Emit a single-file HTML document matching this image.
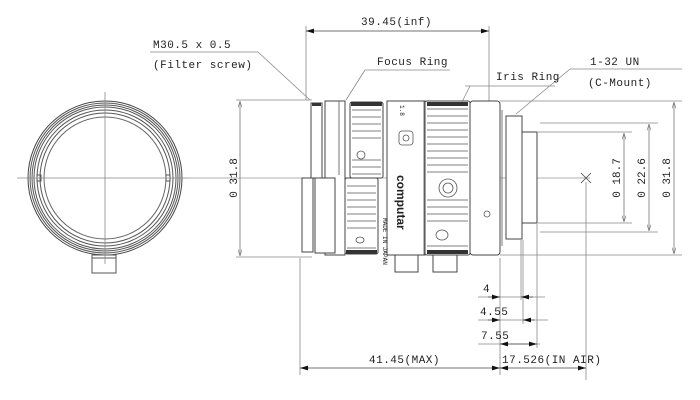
<!DOCTYPE html>
<html><head><meta charset="utf-8"><style>
html,body{margin:0;padding:0;background:#fff;}
svg{display:block;}
text{font-family:"Liberation Mono","Noto Sans CJK JP",monospace;fill:#222;}
</style></head><body>
<svg width="700" height="400" viewBox="0 0 700 400" xmlns="http://www.w3.org/2000/svg">
<defs>
<marker id="a" viewBox="0 0 10 6" refX="10" refY="3" markerWidth="10" markerHeight="6" orient="auto-start-reverse"><path d="M0,0L10,3L0,6z" fill="#111"/></marker>
<marker id="t" viewBox="0 0 10 6" refX="10" refY="3" markerWidth="8" markerHeight="5" orient="auto-start-reverse"><path d="M0,0L10,3L0,6" fill="none" stroke="#777"/></marker>
</defs>
<g fill="none" stroke="#555" stroke-width="1">
<!-- front view -->
<circle cx="105" cy="178" r="77" stroke="#444"/>
<circle cx="105" cy="178" r="75"/>
<circle cx="105" cy="178" r="73"/>
<circle cx="105" cy="178" r="71"/>
<circle cx="105" cy="178" r="68"/>
<circle cx="105" cy="178" r="65"/>
<circle cx="105" cy="178" r="61" stroke="#666"/>
<rect x="37" y="175" width="4" height="6"/>
<rect x="166" y="175" width="4" height="6"/>
<rect x="92" y="255" width="24" height="18" fill="#fff"/>
<line x1="92" y1="258" x2="116" y2="258"/>
</g>
<g stroke="#888" stroke-width="0.8">
<line x1="17" y1="178" x2="190" y2="178"/>
<line x1="105" y1="92" x2="105" y2="264"/>
<!-- side centerline -->
<line x1="190" y1="178" x2="590" y2="178" stroke="#999"/>
<!-- extension lines -->
<line x1="236" y1="100" x2="312" y2="100"/>
<line x1="236" y1="257" x2="312" y2="257"/>
<line x1="500" y1="101" x2="682" y2="101"/>
<line x1="500" y1="255" x2="682" y2="255"/>
<line x1="540" y1="123" x2="658" y2="123"/>
<line x1="540" y1="232" x2="658" y2="232"/>
<line x1="538" y1="132" x2="632" y2="132"/>
<line x1="538" y1="223" x2="632" y2="223"/>
<line x1="306" y1="26" x2="306" y2="100"/>
<line x1="489" y1="26" x2="489" y2="105"/>
<line x1="300" y1="258" x2="300" y2="375"/>
<line x1="500" y1="258" x2="500" y2="375"/>
<line x1="521" y1="240" x2="521" y2="300"/>
<line x1="523" y1="240" x2="523" y2="324"/>
<line x1="537" y1="224" x2="537" y2="348"/>
<line x1="586" y1="182" x2="586" y2="380"/>
<line x1="478" y1="297" x2="545" y2="297"/>
<line x1="478" y1="320" x2="548" y2="320"/>
<line x1="478" y1="344" x2="540" y2="344"/>
<!-- leaders -->
<line x1="150" y1="52" x2="258" y2="52"/>
<line x1="258" y1="52" x2="310" y2="100"/>
<line x1="365" y1="70" x2="450" y2="70"/>
<line x1="365" y1="70" x2="346" y2="100"/>
<line x1="465" y1="86" x2="555" y2="86"/>
<line x1="470" y1="86" x2="456" y2="114"/>
<line x1="570" y1="69" x2="682" y2="69"/>
<line x1="570" y1="69" x2="516" y2="114"/>
</g>
<!-- dims arrows thin -->
<g stroke="#777" stroke-width="0.8">
<line x1="240" y1="101" x2="240" y2="256" marker-start="url(#t)" marker-end="url(#t)"/>
<line x1="624" y1="133" x2="624" y2="222" marker-start="url(#t)" marker-end="url(#t)"/>
<line x1="649" y1="124" x2="649" y2="231" marker-start="url(#t)" marker-end="url(#t)"/>
<line x1="674" y1="102" x2="674" y2="254" marker-start="url(#t)" marker-end="url(#t)"/>
</g>
<g stroke="#444" stroke-width="0.8">
<line x1="306" y1="31" x2="489" y2="31" marker-start="url(#a)" marker-end="url(#a)"/>
<line x1="300" y1="368" x2="500" y2="368" marker-start="url(#a)" marker-end="url(#a)"/>
<line x1="500" y1="368" x2="586" y2="368" marker-start="url(#a)" marker-end="url(#a)"/>
<line x1="488" y1="297" x2="500" y2="297" marker-end="url(#a)"/>
<line x1="533" y1="297" x2="521" y2="297" marker-end="url(#a)"/>
<line x1="488" y1="320" x2="500" y2="320" marker-end="url(#a)"/>
<line x1="535" y1="320" x2="523" y2="320" marker-end="url(#a)"/>
<line x1="500" y1="344" x2="537" y2="344" marker-start="url(#a)" marker-end="url(#a)"/>
<path d="M581,173l10,10M591,173l-10,10" fill="none"/>
</g>
<!-- side view lens -->
<g fill="#fff" stroke="#444" stroke-width="1">
<rect x="311" y="103" width="11" height="75"/>
<rect x="302" y="178" width="11" height="74"/>
<rect x="325" y="101" width="20" height="154"/>
<rect x="315" y="178" width="20" height="75"/>
<rect x="350" y="102" width="33" height="76" rx="2"/>
<rect x="345" y="178" width="33" height="76" rx="2"/>
<rect x="387" y="101" width="38" height="154"/>
<rect x="425" y="101" width="45" height="154" rx="2"/>
<rect x="470" y="101" width="30" height="154" rx="3"/>
<rect x="506" y="116" width="16" height="123"/>
<rect x="522" y="132" width="15" height="91"/>
<rect x="395" y="255" width="23" height="17"/>
<rect x="433" y="255" width="24" height="17"/>
</g>
<g stroke="#555" stroke-width="0.8" fill="none">
<path d="M352,110h29M352,117h29M352,124h29M352,131h29M352,138h29M352,160h29M352,167h29M352,174h29"/>
<path d="M347,186h29M347,193h29M347,200h29M347,207h29M347,214h29M347,221h29M347,228h29M347,248h29"/>
<path d="M427,109h41M427,116h41M427,123h41M427,130h41M427,137h41M427,144h41M427,151h41M427,158h41M427,165h41M427,172h41M427,200h41M427,207h41M427,214h41M427,221h41M427,246h41"/>
<circle cx="361" cy="155" r="4"/>
<circle cx="448" cy="188" r="9"/><circle cx="448" cy="188" r="5"/>
<circle cx="487" cy="214" r="3"/>
<ellipse cx="442" cy="235" rx="6" ry="5"/>
<ellipse cx="360" cy="240" rx="4" ry="3"/>
<rect x="399" y="131" width="14" height="14" rx="3"/><circle cx="406" cy="138" r="3"/>
<line x1="424" y1="101" x2="424" y2="255"/>
<line x1="502" y1="110" x2="502" y2="246"/>
<line x1="339" y1="101" x2="339" y2="175"/>
</g>
<g fill="#333">
<rect x="312" y="103" width="9" height="3"/>
<rect x="351" y="102" width="31" height="4"/>
<rect x="427" y="102" width="41" height="4"/>
<rect x="346" y="250" width="31" height="4"/>
<rect x="427" y="250" width="41" height="4"/>
</g>
<text x="0" y="0" font-size="12" font-weight="bold" transform="translate(397,175) rotate(90)" fill="#333" style="font-family:'Liberation Sans',sans-serif">computar</text>
<text x="0" y="0" font-size="6" transform="translate(400,105) rotate(90)">1.8</text>
<text x="0" y="0" font-size="6" transform="translate(383,218) rotate(90)">MADE IN JAPAN</text>
<!-- labels -->
<g font-size="11" letter-spacing="0.5">
<text x="361" y="25">39.45(inf)</text>
<text x="153" y="48">M30.5 x 0.5</text>
<text x="153" y="68">(Filter screw)</text>
<text x="377" y="65">Focus Ring</text>
<text x="496" y="80">Iris Ring</text>
<text x="590" y="65">1-32 UN</text>
<text x="588" y="86">(C-Mount)</text>
<text x="483" y="292">4</text>
<text x="480" y="315">4.55</text>
<text x="481" y="339">7.55</text>
<text x="369" y="363">41.45(MAX)</text>
<text x="502" y="363">17.526(IN AIR)</text>
</g>
<g font-size="11" style="font-family:'Liberation Sans',sans-serif">
<text transform="translate(237,178) rotate(-90)" text-anchor="middle">0  31.8</text>
<text transform="translate(620,178) rotate(-90)" text-anchor="middle">0  18.7</text>
<text transform="translate(645,178) rotate(-90)" text-anchor="middle">0  22.6</text>
<text transform="translate(670,178) rotate(-90)" text-anchor="middle">0  31.8</text>
</g>
</svg>
</body></html>
